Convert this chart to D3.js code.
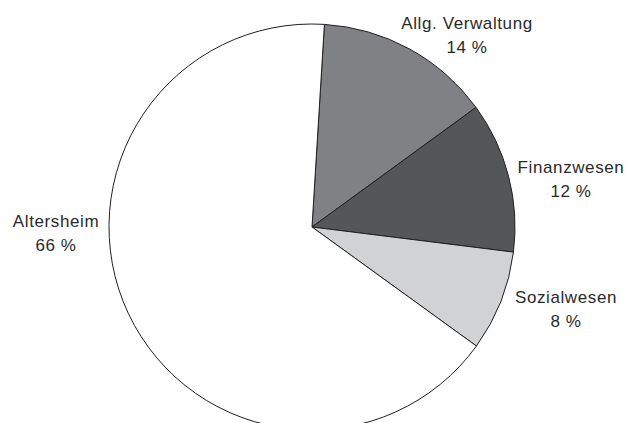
<!DOCTYPE html>
<html>
<head>
<meta charset="utf-8">
<script src="https://cdn.jsdelivr.net/npm/d3@7"></script>
<style>
  html, body { margin: 0; padding: 0; background: #fff; }
  svg { display: block; }
  text { font-family: "Liberation Sans", Arial, sans-serif; font-size: 17px; fill: #2b2a2b; letter-spacing: 0.6px; }
</style>
</head>
<body>
<svg id="chart"></svg>
<script>
// data
const categories = ["Allg. Verwaltung", "Finanzwesen", "Sozialwesen", "Altersheim"];
const shares = [14, 12, 8, 66];
const colors = ["#808184", "#555658", "#d1d2d4", "#ffffff"];

// label anchors (layout, not data)
const labelPos = [[467, 29], [571, 173], [566, 303], [56, 227]];

const width = 628, height = 423;
const cx = 312, cy = 227, radius = 203;
const start = 3.5 * Math.PI / 180;

const svg = d3.select("#chart")
    .attr("width", width)
    .attr("height", height);

const pie = d3.pie()
    .sort(null)
    .startAngle(start)
    .endAngle(start + 2 * Math.PI);

const arc = d3.arc()
    .innerRadius(0)
    .outerRadius(radius);

const g = svg.append("g")
    .attr("transform", "translate(" + cx + "," + cy + ")");

g.selectAll("path")
    .data(pie(shares))
    .enter()
    .append("path")
    .attr("d", arc)
    .attr("fill", function(d, i) { return colors[i]; })
    .attr("stroke", "#231f20")
    .attr("stroke-width", 1)
    .attr("stroke-linejoin", "round");

// labels
const labels = svg.selectAll("text.lbl")
    .data(categories)
    .enter()
    .append("text")
    .attr("class", "lbl")
    .attr("text-anchor", "middle")
    .attr("x", function(d, i) { return labelPos[i][0]; })
    .attr("y", function(d, i) { return labelPos[i][1]; });

labels.append("tspan")
    .attr("x", function(d, i) { return labelPos[i][0]; })
    .text(function(d) { return d; });

labels.append("tspan")
    .attr("x", function(d, i) { return labelPos[i][0]; })
    .attr("dy", 23.5)
    .text(function(d, i) { return shares[i] + " %"; });
</script>
</body>
</html>
